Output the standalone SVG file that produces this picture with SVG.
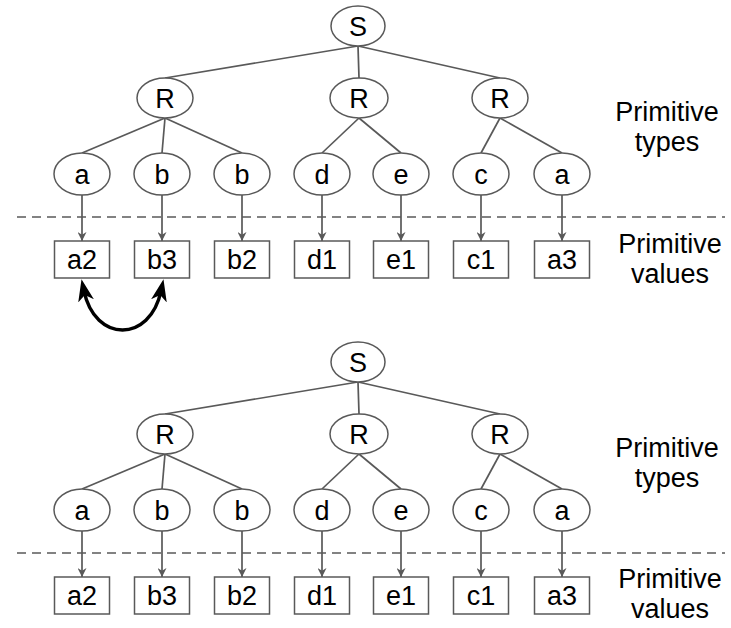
<svg xmlns="http://www.w3.org/2000/svg" width="731" height="628" viewBox="0 0 731 628">
<style>
.n{fill:#fff;stroke:#595959;stroke-width:1.5}
.t{font-family:"Liberation Sans",Arial,sans-serif;font-size:27px;fill:#000;text-anchor:middle}
.e{stroke:#595959;stroke-width:1.7;fill:none}
.a{stroke:#595959;stroke-width:1.7;fill:none;marker-end:url(#ga)}
.d{stroke:#595959;stroke-width:1.7;stroke-dasharray:9 6;fill:none}
.c{stroke:#000;stroke-width:3.5;fill:none;marker-start:url(#ba);marker-end:url(#ba)}
</style>
<defs>
<marker id="ga" viewBox="0 0 10 10" refX="10" refY="5" markerWidth="10" markerHeight="9" markerUnits="userSpaceOnUse" orient="auto">
<path d="M0,0 L10,5 L0,10 L3,5 Z" fill="#595959"/>
</marker>
<marker id="ba" viewBox="0 0 22 16" refX="10" refY="8" markerWidth="22" markerHeight="16" markerUnits="userSpaceOnUse" orient="auto-start-reverse">
<path d="M0,0 L22,8 L0,16 L6,8 Z" fill="#000"/>
</marker>
</defs>

<g id="connectors">
<!-- top tree -->
<line class="e" x1="358" y1="46" x2="165" y2="78"/>
<line class="e" x1="358" y1="46" x2="359" y2="78"/>
<line class="e" x1="358" y1="46" x2="500" y2="78"/>
<line class="e" x1="165" y1="118" x2="82" y2="153"/>
<line class="e" x1="165" y1="118" x2="162" y2="153"/>
<line class="e" x1="165" y1="118" x2="242" y2="153"/>
<line class="e" x1="359" y1="118" x2="322" y2="153"/>
<line class="e" x1="359" y1="118" x2="401" y2="153"/>
<line class="e" x1="500" y1="118" x2="481" y2="153"/>
<line class="e" x1="500" y1="118" x2="562" y2="153"/>
<line class="a" x1="82" y1="195" x2="82" y2="241"/>
<line class="a" x1="162" y1="195" x2="162" y2="241"/>
<line class="a" x1="242" y1="195" x2="242" y2="241"/>
<line class="a" x1="322" y1="195" x2="322" y2="241"/>
<line class="a" x1="401" y1="195" x2="401" y2="241"/>
<line class="a" x1="481" y1="195" x2="481" y2="241"/>
<line class="a" x1="562" y1="195" x2="562" y2="241"/>
<line class="d" x1="17" y1="217" x2="725" y2="217"/>
<path class="c" d="M84,291 C95,343 150,343 161,291"/>
<!-- bottom tree -->
<line class="e" x1="358" y1="382" x2="165" y2="414"/>
<line class="e" x1="358" y1="382" x2="359" y2="414"/>
<line class="e" x1="358" y1="382" x2="500" y2="414"/>
<line class="e" x1="165" y1="454" x2="82" y2="489"/>
<line class="e" x1="165" y1="454" x2="162" y2="489"/>
<line class="e" x1="165" y1="454" x2="242" y2="489"/>
<line class="e" x1="359" y1="454" x2="322" y2="489"/>
<line class="e" x1="359" y1="454" x2="401" y2="489"/>
<line class="e" x1="500" y1="454" x2="481" y2="489"/>
<line class="e" x1="500" y1="454" x2="562" y2="489"/>
<line class="a" x1="82" y1="531" x2="82" y2="577"/>
<line class="a" x1="162" y1="531" x2="162" y2="577"/>
<line class="a" x1="242" y1="531" x2="242" y2="577"/>
<line class="a" x1="322" y1="531" x2="322" y2="577"/>
<line class="a" x1="401" y1="531" x2="401" y2="577"/>
<line class="a" x1="481" y1="531" x2="481" y2="577"/>
<line class="a" x1="562" y1="531" x2="562" y2="577"/>
<line class="d" x1="17" y1="553" x2="725" y2="553"/>
</g>

<!-- top tree nodes -->
<g id="t-S"><ellipse class="n" cx="358" cy="26" rx="27" ry="20"/><text class="t" x="358" y="35.5">S</text></g>
<g id="t-R1"><ellipse class="n" cx="165" cy="98" rx="28" ry="20"/><text class="t" x="165" y="107.5">R</text></g>
<g id="t-R2"><ellipse class="n" cx="359" cy="98" rx="29" ry="20"/><text class="t" x="359" y="107.5">R</text></g>
<g id="t-R3"><ellipse class="n" cx="500" cy="98" rx="28" ry="20"/><text class="t" x="500" y="107.5">R</text></g>
<g id="t-a"><ellipse class="n" cx="82" cy="174" rx="28" ry="21"/><text class="t" x="82" y="183.5">a</text></g>
<g id="t-b1"><ellipse class="n" cx="162" cy="174" rx="28" ry="21"/><text class="t" x="162" y="183.5">b</text></g>
<g id="t-b2"><ellipse class="n" cx="242" cy="174" rx="28" ry="21"/><text class="t" x="242" y="183.5">b</text></g>
<g id="t-d"><ellipse class="n" cx="322" cy="174" rx="28" ry="21"/><text class="t" x="322" y="183.5">d</text></g>
<g id="t-e"><ellipse class="n" cx="401" cy="174" rx="28" ry="21"/><text class="t" x="401" y="183.5">e</text></g>
<g id="t-c"><ellipse class="n" cx="481" cy="174" rx="28" ry="21"/><text class="t" x="481" y="183.5">c</text></g>
<g id="t-a2"><ellipse class="n" cx="562" cy="174" rx="28" ry="21"/><text class="t" x="562" y="183.5">a</text></g>
<g id="t-v-a2"><rect class="n" x="54.5" y="241" width="55" height="37"/><text class="t" x="82" y="268.5">a2</text></g>
<g id="t-v-b3"><rect class="n" x="134.5" y="241" width="55" height="37"/><text class="t" x="162" y="268.5">b3</text></g>
<g id="t-v-b2"><rect class="n" x="214.5" y="241" width="55" height="37"/><text class="t" x="242" y="268.5">b2</text></g>
<g id="t-v-d1"><rect class="n" x="294.5" y="241" width="55" height="37"/><text class="t" x="322" y="268.5">d1</text></g>
<g id="t-v-e1"><rect class="n" x="373.5" y="241" width="55" height="37"/><text class="t" x="401" y="268.5">e1</text></g>
<g id="t-v-c1"><rect class="n" x="453.5" y="241" width="55" height="37"/><text class="t" x="481" y="268.5">c1</text></g>
<g id="t-v-a3"><rect class="n" x="534.5" y="241" width="55" height="37"/><text class="t" x="562" y="268.5">a3</text></g>
<g id="t-label-types"><text class="t" x="667" y="121">Primitive</text><text class="t" x="667" y="151">types</text></g>
<g id="t-label-values"><text class="t" x="670" y="253">Primitive</text><text class="t" x="670" y="283">values</text></g>

<!-- bottom tree nodes -->
<g id="b-S"><ellipse class="n" cx="358" cy="362" rx="27" ry="20"/><text class="t" x="358" y="371.5">S</text></g>
<g id="b-R1"><ellipse class="n" cx="165" cy="434" rx="28" ry="20"/><text class="t" x="165" y="443.5">R</text></g>
<g id="b-R2"><ellipse class="n" cx="359" cy="434" rx="29" ry="20"/><text class="t" x="359" y="443.5">R</text></g>
<g id="b-R3"><ellipse class="n" cx="500" cy="434" rx="28" ry="20"/><text class="t" x="500" y="443.5">R</text></g>
<g id="b-a"><ellipse class="n" cx="82" cy="510" rx="28" ry="21"/><text class="t" x="82" y="519.5">a</text></g>
<g id="b-b1"><ellipse class="n" cx="162" cy="510" rx="28" ry="21"/><text class="t" x="162" y="519.5">b</text></g>
<g id="b-b2"><ellipse class="n" cx="242" cy="510" rx="28" ry="21"/><text class="t" x="242" y="519.5">b</text></g>
<g id="b-d"><ellipse class="n" cx="322" cy="510" rx="28" ry="21"/><text class="t" x="322" y="519.5">d</text></g>
<g id="b-e"><ellipse class="n" cx="401" cy="510" rx="28" ry="21"/><text class="t" x="401" y="519.5">e</text></g>
<g id="b-c"><ellipse class="n" cx="481" cy="510" rx="28" ry="21"/><text class="t" x="481" y="519.5">c</text></g>
<g id="b-a2"><ellipse class="n" cx="562" cy="510" rx="28" ry="21"/><text class="t" x="562" y="519.5">a</text></g>
<g id="b-v-a2"><rect class="n" x="54.5" y="577" width="55" height="37"/><text class="t" x="82" y="604.5">a2</text></g>
<g id="b-v-b3"><rect class="n" x="134.5" y="577" width="55" height="37"/><text class="t" x="162" y="604.5">b3</text></g>
<g id="b-v-b2"><rect class="n" x="214.5" y="577" width="55" height="37"/><text class="t" x="242" y="604.5">b2</text></g>
<g id="b-v-d1"><rect class="n" x="294.5" y="577" width="55" height="37"/><text class="t" x="322" y="604.5">d1</text></g>
<g id="b-v-e1"><rect class="n" x="373.5" y="577" width="55" height="37"/><text class="t" x="401" y="604.5">e1</text></g>
<g id="b-v-c1"><rect class="n" x="453.5" y="577" width="55" height="37"/><text class="t" x="481" y="604.5">c1</text></g>
<g id="b-v-a3"><rect class="n" x="534.5" y="577" width="55" height="37"/><text class="t" x="562" y="604.5">a3</text></g>
<g id="b-label-types"><text class="t" x="667" y="457">Primitive</text><text class="t" x="667" y="487">types</text></g>
<g id="b-label-values"><text class="t" x="670" y="588">Primitive</text><text class="t" x="670" y="618">values</text></g>
</svg>
